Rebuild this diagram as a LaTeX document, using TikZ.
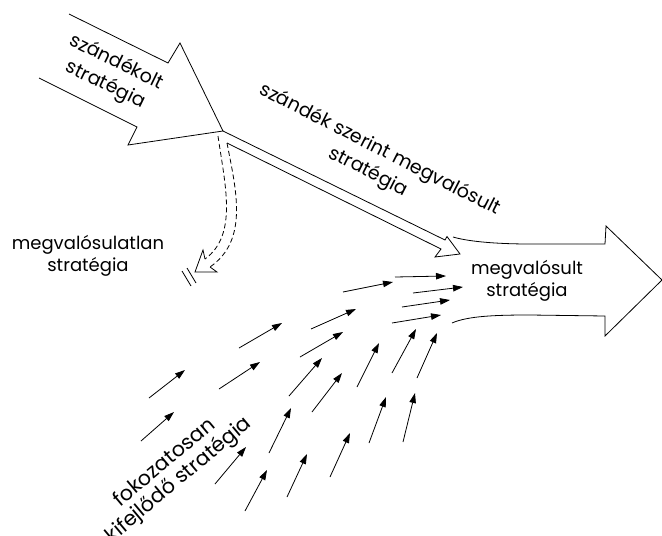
\documentclass[tikz,border=0pt]{standalone}
\usepackage{fontspec}
\setmainfont{Poppins}
\usetikzlibrary{arrows.meta}
\begin{document}
\begin{tikzpicture}[x=1pt,y=-1pt,
  outline/.style={draw=black,line width=0.8pt,line join=miter},
  lbl/.style={font=\fontsize{18}{22}\selectfont,align=center,inner sep=0pt},
  rlbl/.style={font=\fontsize{19}{25}\selectfont,align=center,inner sep=0pt},
  small/.style={draw=black,line width=0.8pt,-{Triangle[length=10pt,width=6.5pt]}},
  dashline/.style={draw=black,line width=0.8pt,dash pattern=on 5pt off 3pt}]
\useasboundingbox[fill=white] (0,0) rectangle (662,536);

% intended strategy arrow
\draw[outline] (69,14) -- (168,63) -- (180,43) -- (223,131) -- (128,145) -- (137,127) -- (39,78);
% deliberate strategy (double) arrow
\draw[outline] (223,131) -- (445,240) -- (447,236.5) -- (460,254) -- (435,257) -- (441,249) -- (227,143);
% unrealized strategy dashed arrow
\draw[dashline] (218,136) .. controls (225,185) and (238,235) .. (205,259);
\draw[dashline] (227,143) .. controls (236,190) and (249,240) .. (210,267);
\draw[outline] (205,259) -- (203,250) -- (195,272) -- (217,272) -- (210,267);
\draw[outline] (182,271) -- (191,286);
\draw[outline] (187,268) -- (196,283);
% realized strategy arrow
\draw[outline] (453,237) .. controls (470,242) and (500,244) .. (530,244) -- (605,244) -- (606,226)
  -- (662,280) -- (605,336) -- (605,316) -- (530,315) .. controls (495,315) and (468,316) .. (452,323);

% emergent small arrows
\foreach \ax/\ay/\bx/\by in {
  395/277/446/276, 343/292/393/282, 413/293/463/287, 402/307/450/300, 392/323/441/315,
  311/329/356/309, 239/348/282/323, 300/357/343/332, 149/398/185/370, 219/389/260/362,
  289/396/322/358, 312/412/342/373, 357/387/379/343, 392/373/416/329, 417/378/437/333,
  141/441/174/412, 269/453/291/408, 215/484/246/447, 245/511/267/470, 287/497/307/454,
  330/477/350/433, 369/443/386/397, 403/442/415/393}
  {\coordinate (s) at (\ax,\ay); \coordinate (e) at (\bx,\by); \draw[small] (s) -- (e);}

% labels
\node[rlbl,rotate=-26] (intended) at (111,74) {szándékolt\\stratégia};
\node[rlbl,rotate=-27] (deliberate) at (374,161) {szándék szerint megvalósult\\stratégia};
\node[lbl] (unrealized) at (88,256) {megvalósulatlan\\stratégia};
\node[lbl] (realized) at (527,281) {megvalósult\\stratégia};
\node[font=\fontsize{20.5}{22}\selectfont,align=center,inner sep=0pt,rotate=40] (emergent) at (172,472) {fokozatosan\\kifejlődő stratégia};
\end{tikzpicture}
\end{document}
